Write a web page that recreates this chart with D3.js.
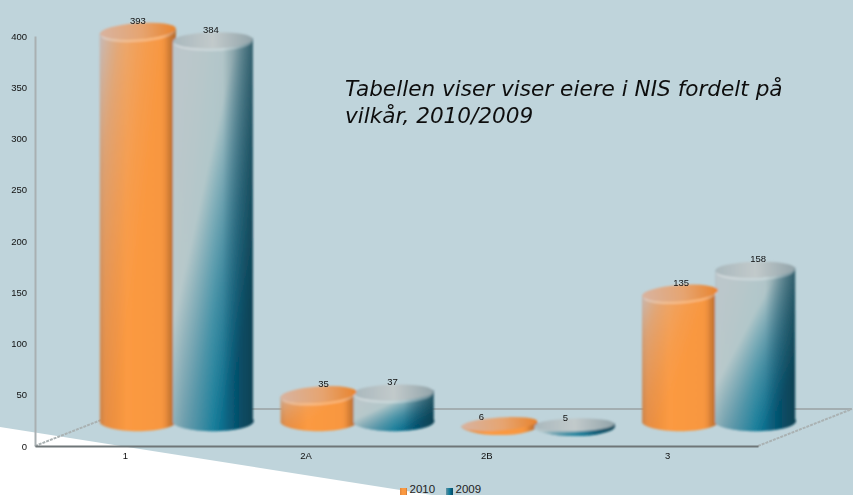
<!DOCTYPE html>
<html><head><meta charset="utf-8">
<script src="https://cdn.jsdelivr.net/npm/d3@7/dist/d3.min.js"></script>
<style>html,body{margin:0;padding:0;background:#bfd4db;overflow:hidden}svg{display:block}text{font-family:"Liberation Sans",Arial,sans-serif}</style>
</head><body>
<script>
const categories = ["1", "2A", "2B", "3"];
const seriesNames = ["2010", "2009"];
const values2010 = [393, 35, 6, 135];
const values2009 = [384, 37, 5, 158];
const yTicks = [0, 50, 100, 150, 200, 250, 300, 350, 400];
const titleLines = ["Tabellen viser viser eiere i NIS fordelt på", "vilkår, 2010/2009"];

const W = 853, H = 495, depthX = 51;
const svg = d3.select("body").append("svg").attr("width", W).attr("height", H);
const defs = svg.append("defs");

function grad(id, stops, x1, y1, x2, y2) {
  const g = defs.append("linearGradient").attr("id", id)
    .attr("x1", x1).attr("y1", y1).attr("x2", x2).attr("y2", y2);
  stops.forEach(s => g.append("stop").attr("offset", s[0]).attr("stop-color", s[1]).attr("stop-opacity", s[2] === undefined ? 1 : s[2]));
}
grad("o-base", [[0,"#c47a3e"],[.07,"#e58a3e"],[.35,"#fb9a42"],[.8,"#f89740"],[.95,"#d67e36"],[1,"#c4742f"]], 0,0,1,0);
grad("o-over", [[0,"#c6c0c2",.95],[.3,"#d8b8a2",.55],[1,"#f0a060",0]], 0,0,.6,.42);
grad("o-edge", [[0,"#000",0],[.85,"#000",0],[1,"#7a4a20",.25]], 0,0,1,0);
grad("o-top", [[0,"#d8b3a0"],[.55,"#e6a470"],[1,"#e8842e"]], 0,0,1,0);
grad("b-base", [[0,"#6f9aa8"],[.12,"#4c8a9f"],[.5,"#0f7a98"],[.8,"#045a7a"],[1,"#0c4c62"]], 0,0,1,0);
grad("b-over", [[0,"#bcc6cb",1],[.45,"#c2cfcf",.9],[.75,"#8fb3bb",.4],[1,"#7aa8b4",0]], .05,0,.8,.82);
grad("b-edge", [[0,"#0a3c4c",0],[.62,"#0a3c4c",0],[1,"#0a3c4c",.65]], 0,0,1,0);
grad("b-top", [[0,"#a9b8bd"],[.5,"#c2cacb"],[1,"#92a4aa"]], 0,0,1,0);
defs.append("filter").attr("id","soft").attr("x","-5%").attr("y","-5%").attr("width","110%").attr("height","110%")
  .append("feGaussianBlur").attr("stdDeviation",0.9);
defs.append("filter").attr("id","softText").append("feGaussianBlur").attr("stdDeviation",0.3);

svg.append("path").attr("fill","#fff")
  .attr("d", d3.line()([[0,427],[432,495],[0,495]]) + "Z");

const yAxisScale = d3.scaleLinear().domain([0,400]).range([446,36]);
const yBar = d3.scaleLinear().domain([0,400]).range([430,24]);
const xCat = d3.scaleBand().domain(categories).range([35,758]);
const xSub = d3.scalePoint().domain(seriesNames).range([-38.5,36.5]);
const barWidth = {"2010":76,"2009":80};
const tilt = {"2010":-4,"2009":-1.5};
const bottomY = 421;

// floor
const floorY = yAxisScale(0), backY = 409, floorDx = 94;
const floor = svg.append("g").attr("fill","none");
floor.append("path").attr("stroke","#a3aeb1").attr("stroke-width",2)
  .attr("d", d3.line()([[35+floorDx,backY],[758+floorDx,backY]]));
floor.append("path").attr("stroke","#aab2b3").attr("stroke-width",2).attr("stroke-dasharray","3 1")
  .attr("d", d3.line()([[35,floorY],[35+floorDx,backY]]));
floor.append("path").attr("stroke","#aab2b3").attr("stroke-width",2).attr("stroke-dasharray","3 1")
  .attr("d", d3.line()([[758,floorY],[758+floorDx,backY]]));

// axes
const gy = svg.append("g").attr("transform","translate(35,0)")
  .call(d3.axisLeft(yAxisScale).tickValues(yTicks).tickSize(0).tickPadding(8));
gy.select(".domain").attr("stroke","#a9b0b2").attr("stroke-width",2);
gy.selectAll("text").attr("font-size",9.5).attr("fill","#111").attr("font-family","'Liberation Sans'").attr("filter","url(#softText)");
const gx = svg.append("g").attr("transform",`translate(0,${floorY})`)
  .call(d3.axisBottom(xCat).tickSize(0).tickPadding(6));
gx.select(".domain").attr("stroke","#6f7678").attr("stroke-width",2);
gx.selectAll("text").attr("font-size",9.5).attr("fill","#111").attr("font-family","'Liberation Sans'").attr("filter","url(#softText)");

// cylinders
const rows = [];
categories.forEach((c,i) => {
  rows.push({c, s:"2010", v:values2010[i], k:"o"});
  rows.push({c, s:"2009", v:values2009[i], k:"b"});
});
const marks = svg.append("g").attr("filter","url(#soft)");
function bodyPath(d) {
  const cx = xCat(d.c)+xCat.bandwidth()/2+depthX+xSub(d.s), w = barWidth[d.s];
  const top = yBar(d.v), bot = Math.max(bottomY, top+1);
  const l = cx-w/2, r = cx+w/2;
  return `M${l},${top+2}L${l},${bot+2}A${w/2},10 0 0 0 ${r},${bot-2}L${r},${top-2}Z`;
}
function drawBody(d) {
  ["base","over","edge"].forEach(layer =>
    marks.append("path").attr("d",bodyPath(d)).attr("fill",`url(#${d.k}-${layer})`));
}
function drawTop(d) {
  const cx = xCat(d.c)+xCat.bandwidth()/2+depthX+xSub(d.s), w = barWidth[d.s], top = yBar(d.v);
  const ry = d.v<10?6.5:8;
  marks.append("ellipse").attr("cx",cx).attr("cy",top+1.5).attr("rx",w/2-2).attr("ry",ry)
    .attr("transform",`rotate(${tilt[d.s]} ${cx} ${top})`).attr("fill","none")
    .attr("stroke","#fff").attr("stroke-opacity",.3).attr("stroke-width",d.v<10?0:2.5);
  marks.append("ellipse").attr("cx",cx).attr("cy",top).attr("rx",w/2).attr("ry",ry)
    .attr("transform",`rotate(${tilt[d.s]} ${cx} ${top})`).attr("fill",`url(#${d.k}-top)`);
}
rows.filter(d=>d.k==="o").forEach(drawBody);
rows.filter(d=>d.k==="b").forEach(drawBody);
rows.filter(d=>d.k==="b").forEach(drawTop);
rows.filter(d=>d.k==="o").forEach(drawTop);

// value labels
const labelShift = {"1":[0,-2],"2A":[5,-1],"2B":[-18,-9],"3":[1,3]};
svg.append("g").selectAll("text").data(rows).join("text")
  .attr("x", d => xCat(d.c)+xCat.bandwidth()/2+depthX+xSub(d.s)+labelShift[d.c][d.k==="o"?0:1])
  .attr("y", d => yBar(d.v)-(d.v<10?7:10.5))
  .attr("dy","0.35em").attr("text-anchor","middle").attr("font-size",9.5).attr("fill","#111")
  .attr("filter","url(#softText)").text(d=>d.v);

// title
svg.append("g").selectAll("text").data(titleLines).join("text")
  .attr("x",345).attr("y",(d,i)=>96+i*26.5)
  .style("font-family","'DejaVu Sans'").attr("font-style","italic").attr("font-size",21.6).attr("fill","#111")
  .attr("filter","url(#softText)").text(d=>d);

// legend
const legendX = d3.scaleOrdinal().domain(seriesNames).range([400,446]);
const lg = svg.append("g").selectAll("g").data(seriesNames).join("g")
  .attr("transform",d=>`translate(${legendX(d)},488)`);
lg.append("rect").attr("width",7).attr("height",7).attr("fill",d=>d==="2010"?"url(#o-base)":"url(#b-base)");
lg.append("text").attr("x",9.5).attr("y",4.5).attr("font-size",11.5).attr("fill","#222").text(d=>d);
</script>
</body></html>
